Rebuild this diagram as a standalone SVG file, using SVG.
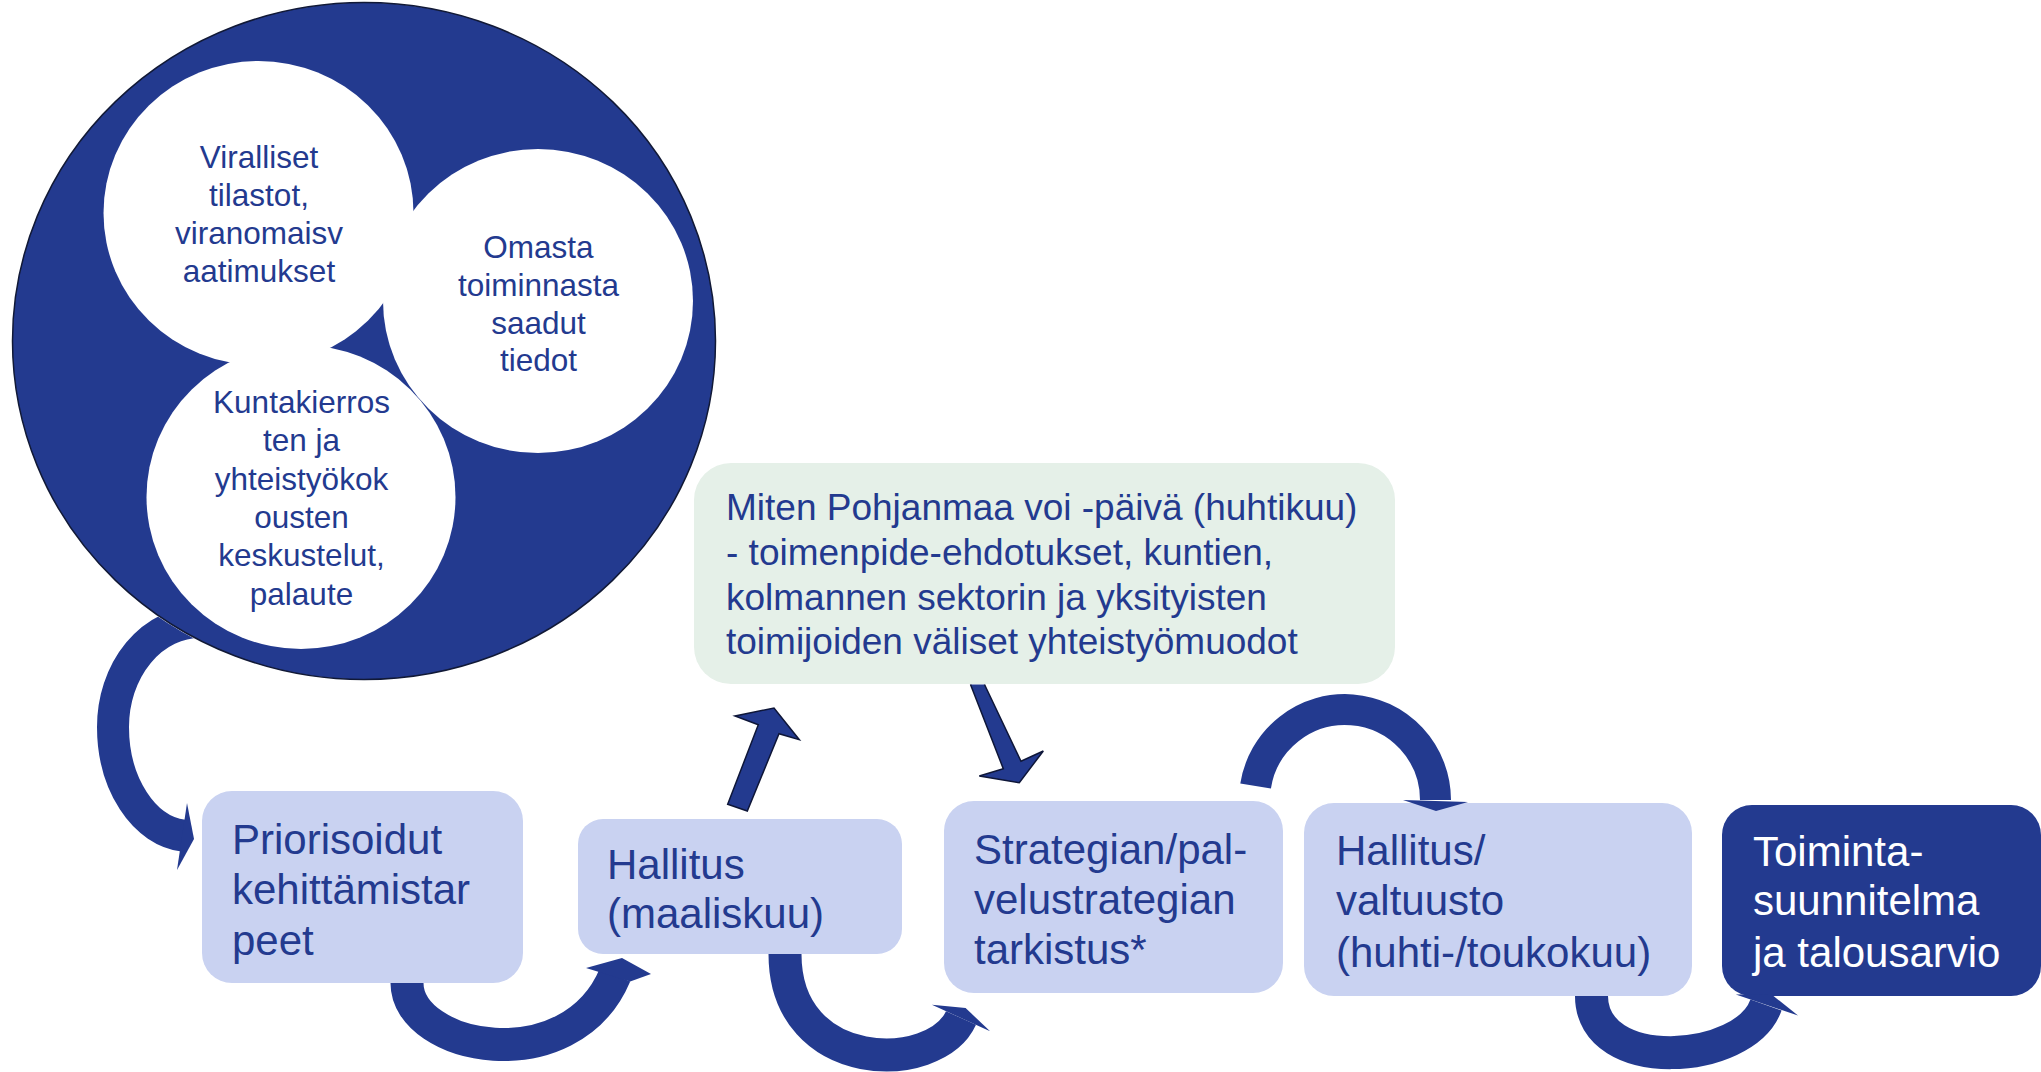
<svg xmlns="http://www.w3.org/2000/svg" width="2041" height="1072" viewBox="0 0 2041 1072">
<defs>
<style>
.t{font-family:'Liberation Sans',Arial,sans-serif;fill:#233a8f}
.c{font-size:31.5px;text-anchor:middle}
.b{font-size:42px}
.g{font-size:37px}
.w{fill:#ffffff}
.light{fill:#c9d2f1}
.dark{fill:#233a8f}
.green{fill:#e5f0e8}
.arc{fill:none;stroke:#233a8f;stroke-linecap:butt}
.head{fill:#233a8f}
.out{fill:#233a8f;stroke:#0e1638;stroke-width:1.5;stroke-linejoin:miter}
</style>
<clipPath id="outside"><path clip-rule="evenodd" d="M0 0H2041V1072H0Z M11 341 A353 339.5 0 1 0 717 341 A353 339.5 0 1 0 11 341Z"/></clipPath>
</defs>

<g id="node-sources">
<ellipse cx="364" cy="341" rx="351.5" ry="338.5" fill="#233a8f" stroke="#111936" stroke-width="1.5"/>
<ellipse class="w" cx="258.5" cy="213" rx="155" ry="152"/>
<ellipse class="w" cx="538" cy="301" rx="155" ry="152"/>
<ellipse class="w" cx="301" cy="497" rx="154.5" ry="152"/>
<text class="t c" x="259" y="167.5">Viralliset</text>
<text class="t c" x="259" y="205.5">tilastot,</text>
<text class="t c" x="259" y="243.5">viranomaisv</text>
<text class="t c" x="259" y="281.5">aatimukset</text>
<text class="t c" x="538.5" y="258">Omasta</text>
<text class="t c" x="538.5" y="296">toiminnasta</text>
<text class="t c" x="538.5" y="333.5">saadut</text>
<text class="t c" x="538.5" y="371">tiedot</text>
<text class="t c" x="301.5" y="413">Kuntakierros</text>
<text class="t c" x="301.5" y="451">ten ja</text>
<text class="t c" x="301.5" y="489.5">yhteistyökok</text>
<text class="t c" x="301.5" y="527.5">ousten</text>
<text class="t c" x="301.5" y="566">keskustelut,</text>
<text class="t c" x="301.5" y="605">palaute</text>
</g>

<g id="node-priorisoidut">
<rect class="light" x="202" y="791" width="321" height="192" rx="30"/>
<text class="t b" x="232" y="854">Priorisoidut</text>
<text class="t b" x="232" y="904">kehittämistar</text>
<text class="t b" x="232" y="955">peet</text>
</g>

<g id="node-hallitus-maaliskuu">
<rect class="light" x="578" y="819" width="324" height="135" rx="25"/>
<text class="t b" x="607" y="879">Hallitus</text>
<text class="t b" x="607" y="928">(maaliskuu)</text>
</g>

<g id="node-miten-pohjanmaa">
<rect class="green" x="694" y="463" width="701" height="221" rx="37"/>
<text class="t g" x="726" y="520">Miten Pohjanmaa voi -päivä (huhtikuu)</text>
<text class="t g" x="726" y="565">- toimenpide-ehdotukset, kuntien,</text>
<text class="t g" x="726" y="610">kolmannen sektorin ja yksityisten</text>
<text class="t g" x="726" y="654">toimijoiden väliset yhteistyömuodot</text>
</g>

<g id="node-strategian">
<rect class="light" x="944" y="801" width="339" height="192" rx="30"/>
<text class="t b" x="974" y="864">Strategian/pal-</text>
<text class="t b" x="974" y="914">velustrategian</text>
<text class="t b" x="974" y="964">tarkistus*</text>
</g>

<g id="node-hallitus-valtuusto">
<rect class="light" x="1304" y="803" width="388" height="193" rx="30"/>
<text class="t b" x="1336" y="865">Hallitus/</text>
<text class="t b" x="1336" y="915">valtuusto</text>
<text class="t b" x="1336" y="967">(huhti-/toukokuu)</text>
</g>

<g id="node-toimintasuunnitelma">
<rect class="dark" x="1722" y="805" width="319" height="191" rx="30"/>
<text class="t b" x="1753" y="866" fill="#ffffff" style="fill:#ffffff">Toiminta-</text>
<text class="t b" x="1753" y="915" style="fill:#ffffff">suunnitelma</text>
<text class="t b" x="1753" y="967" style="fill:#ffffff">ja talousarvio</text>
</g>

<g id="connectors">
<!-- sources -> Priorisoidut -->
<path class="arc" stroke-width="32" clip-path="url(#outside)" d="M250 622 L200 622 A87 105 0 0 0 113 727 A77 109 0 0 0 183.3 835.6"/>
<polygon class="head" points="187,803 194,839 177,870"/>
<!-- Priorisoidut -> Hallitus (maaliskuu) -->
<path class="arc" stroke-width="33" d="M407 983 C407 1050 570 1082 615 975"/>
<polygon class="head" points="586,968 622,958 651,974 630.2,981.4"/>
<!-- Hallitus -> Miten Pohjanmaa -->
<path class="out" d="M727.7 804.3 L758.3 724.7 L735 716 L774 708 L799.3 739.7 L779 733.7 L747.3 811 Z"/>
<!-- Miten Pohjanmaa -> Strategian -->
<path class="out" d="M984.5 684.5 L1021 761.3 L1043.3 751 L1019.3 782.7 L979.3 776 L1003.3 768.7 L970.5 684.5"/>
<!-- Hallitus -> Strategian -->
<path class="arc" stroke-width="33" d="M785 954 C785 1075 935 1075 961 1018"/>
<polygon class="head" points="931.9,1004.7 965.6,1008 990.1,1031.3"/>
<!-- Strategian -> Hallitus/valtuusto -->
<path class="arc" stroke-width="31" d="M1255.6 786 A90.5 90.5 0 0 1 1435.5 800"/>
<polygon class="head" points="1403,800 1436,811 1468,802"/>
<!-- Hallitus/valtuusto -> Toimintasuunnitelma -->
<path class="arc" stroke-width="33" d="M1591.5 996 C1591.5 1075 1745 1065 1766 1005"/>
<polygon class="head" points="1735.8,994.4 1771,994 1798,1015.6"/>
</g>
</svg>
